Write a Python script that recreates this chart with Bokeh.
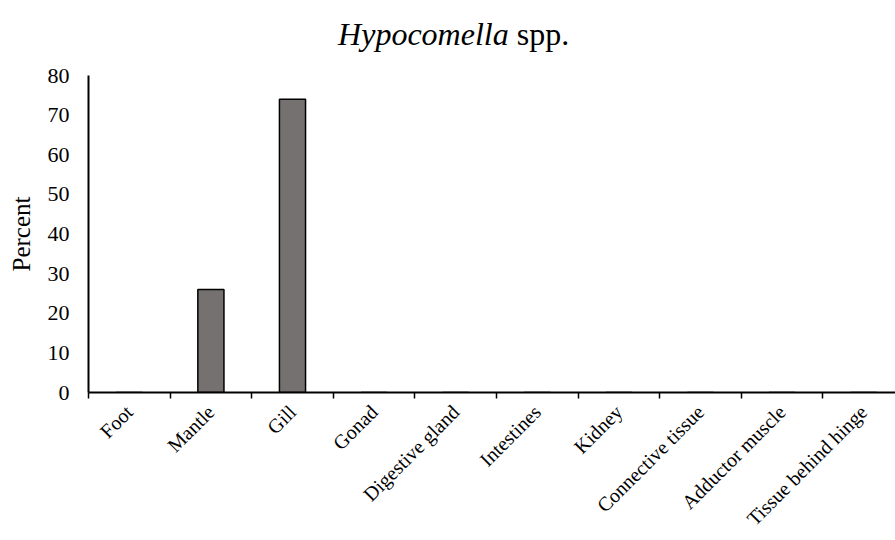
from bokeh.plotting import figure
from bokeh.models import FixedTicker, Range1d
from bokeh.layouts import column
from bokeh.core.properties import value
from bokeh.embed import file_html
from bokeh.resources import INLINE

# ---- data ----
categories = ["Foot", "Mantle", "Gill", "Gonad", "Digestive gland", "Intestines",
              "Kidney", "Connective tissue", "Adductor muscle", "Tissue behind hinge"]
percent = [0, 26, 74, 0, 0, 0, 0, 0, 0, 0]
y_ticks = [0, 10, 20, 30, 40, 50, 60, 70, 80]
title_italic = "Hypocomella"
title_rest = "spp."
y_label = "Percent"

positions = list(range(1, len(categories) + 1))
boundaries = [p - 0.5 for p in positions] + [positions[-1] + 0.5]

FONT = "Liberation Serif"
BAR_FILL = "#767171"

# ---- title strip (mixed italic / regular title) ----
t = figure(width=895, height=57, output_backend="svg", toolbar_location=None,
           x_range=Range1d(0, 895), y_range=Range1d(0, 57),
           min_border=0, x_axis_type=None, y_axis_type=None)
t.outline_line_color = None
t.grid.visible = False
t.text(x=[466], y=[24], text=[title_italic], text_align="right",
       text_baseline="alphabetic", text_font=value(FONT), text_font_size="32px",
       text_font_style="italic", text_color="black")
t.text(x=[466], y=[24], text=[title_rest], x_offset=8, text_align="left",
       text_baseline="alphabetic", text_font=value(FONT), text_font_size="32px",
       text_font_style="normal", text_color="black")

# ---- chart ----
p = figure(width=895, height=483, output_backend="svg", toolbar_location=None,
           x_range=Range1d(0.5, 10.39), y_range=Range1d(0, 80),
           min_border_left=88, min_border_top=18, min_border_bottom=148,
           min_border_right=0)
p.outline_line_color = None
p.grid.visible = False
p.background_fill_color = "white"
p.border_fill_color = "white"

p.vbar(x=positions, top=percent, width=0.32, fill_color=BAR_FILL,
       line_color="black", line_width=1.5)

# x axis
xa = p.xaxis[0]
xa.ticker = FixedTicker(ticks=positions, minor_ticks=boundaries)
xa.major_label_overrides = {pos: cat for pos, cat in zip(positions, categories)}
xa.major_label_orientation = 0.785398
xa.major_tick_out = 0
xa.major_tick_in = 0
xa.minor_tick_out = 6
xa.minor_tick_in = 0
xa.minor_tick_line_color = "black"
xa.minor_tick_line_width = 1.5
xa.axis_line_color = "black"
xa.axis_line_width = 2
xa.major_label_text_font = FONT
xa.major_label_text_font_size = "20px"
xa.major_label_text_color = "black"
xa.major_label_standoff = 10

# y axis
ya = p.yaxis[0]
ya.ticker = FixedTicker(ticks=y_ticks, minor_ticks=[])
ya.major_tick_out = 0
ya.major_tick_in = 0
ya.axis_line_color = "black"
ya.axis_line_width = 2
ya.major_label_text_font = FONT
ya.major_label_text_font_size = "22px"
ya.major_label_text_color = "black"
ya.major_label_standoff = 19
ya.axis_label = y_label
ya.axis_label_text_font = FONT
ya.axis_label_text_font_size = "25px"
ya.axis_label_text_font_style = "normal"
ya.axis_label_text_color = "black"
ya.axis_label_standoff = 10

layout = column(t, p, spacing=0)
open("out.html", "w").write(file_html(layout, INLINE))
